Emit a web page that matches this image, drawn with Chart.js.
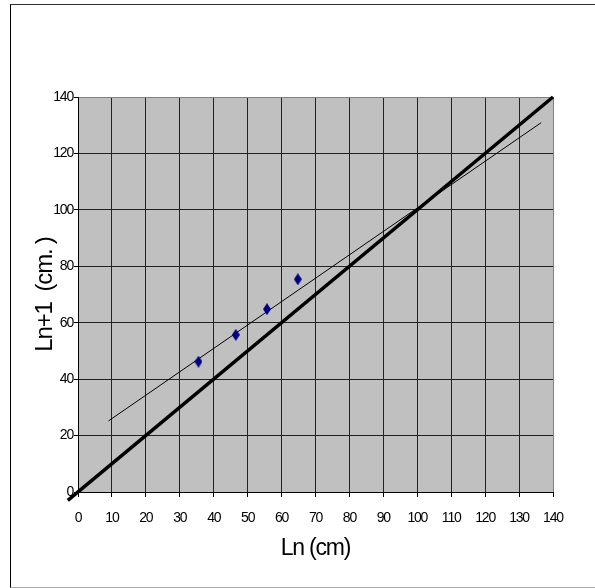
<!DOCTYPE html>
<html>
<head>
<meta charset="utf-8">
<script src="https://cdn.jsdelivr.net/npm/chart.js@4/dist/chart.umd.min.js"></script>
<style>
    body { margin: 0; background: #fff; }
    #marco {
        position: absolute; left: 10px; top: 4px; width: 600px; height: 582px;
        border-left: 1px solid #000; border-top: 1px solid #333; border-bottom: 1px solid #aaa;
    }
    #grafico { position: absolute; left: 0; top: 0; }
</style>
</head>
<body>
<div id="marco"></div>
<canvas id="grafico" width="595" height="588"></canvas>
<script>
// datos medidos
const lnX = [35.5, 46.5, 55.7, 64.8];
const lnY = [46.2, 55.7, 64.8, 75.4];
// linea 1:1
const identidadX = [-3, 140];
const identidadY = [-3, 140];
// linea de ajuste
const ajusteX = [9, 136.5];
const ajusteY = [25.2, 130.9];

function puntos(xs, ys) {
    return xs.map((x, i) => ({ x: x, y: ys[i] }));
}

// rombo azul oscuro
const rombo = document.createElement('canvas');
rombo.width = 8;
rombo.height = 12;
const rc = rombo.getContext('2d');
rc.fillStyle = '#000080';
rc.beginPath();
rc.moveTo(4, 0);
rc.lineTo(8, 6);
rc.lineTo(4, 12);
rc.lineTo(0, 6);
rc.closePath();
rc.fill();

const fondoArea = {
    id: 'fondoArea',
    beforeDraw(chart) {
        const a = chart.chartArea;
        const ctx = chart.ctx;
        ctx.save();
        ctx.fillStyle = '#c0c0c0';
        ctx.fillRect(a.left, a.top, a.right - a.left, a.bottom - a.top);
        ctx.restore();
        ctx.letterSpacing = '-1.2px';
    },
    afterDraw(chart) {
        chart.ctx.letterSpacing = '0px';
    }
};

function colorGrid(ctx) {
    return ctx.index === ctx.scale.ticks.length - 1 ? '#808080' : '#222';
}

new Chart(document.getElementById('grafico'), {
    type: 'scatter',
    data: {
        datasets: [{
            label: 'Ln+1',
            data: puntos(lnX, lnY),
            pointStyle: rombo,
            pointRadius: 5,
            showLine: false
        }, {
            label: '1:1',
            data: puntos(identidadX, identidadY),
            showLine: true,
            borderColor: '#000',
            borderWidth: 3.5,
            pointRadius: 0,
            clip: false
        }, {
            label: 'ajuste',
            data: puntos(ajusteX, ajusteY),
            showLine: true,
            borderColor: '#000',
            borderWidth: 1,
            pointRadius: 0
        }]
    },
    options: {
        responsive: false,
        animation: false,
        layout: { padding: { top: 97, right: 42, left: 0, bottom: 0 } },
        plugins: {
            legend: { display: false },
            tooltip: { enabled: false }
        },
        scales: {
            x: {
                type: 'linear',
                min: 0,
                max: 140,
                afterFit: function(scale) { scale.height = 96; },
                ticks: {
                    stepSize: 10,
                    color: '#000',
                    padding: 13,
                    font: { family: 'Arial, "Liberation Sans"', size: 14 }
                },
                grid: { color: colorGrid, tickColor: '#000', tickLength: 5, lineWidth: 1 },
                border: { color: '#000' },
                title: {
                    display: true,
                    text: 'Ln (cm)',
                    color: '#000',
                    padding: { top: 0, bottom: 26 },
                    font: { family: 'Arial, "Liberation Sans"', size: 23, weight: 'normal' }
                }
            },
            y: {
                type: 'linear',
                min: 0,
                max: 140,
                afterFit: function(scale) { scale.width = 78; },
                ticks: {
                    stepSize: 20,
                    color: '#000',
                    padding: 1,
                    font: { family: 'Arial, "Liberation Sans"', size: 14 }
                },
                grid: { color: colorGrid, tickColor: '#000', tickLength: 4, lineWidth: 1 },
                border: { color: '#000' },
                title: {
                    display: true,
                    text: 'Ln+1  (cm. )',
                    color: '#000',
                    padding: { top: 31, bottom: 0 },
                    font: { family: 'Arial, "Liberation Sans"', size: 24, weight: 'normal' }
                }
            }
        }
    },
    plugins: [fondoArea]
});
</script>
</body>
</html>
